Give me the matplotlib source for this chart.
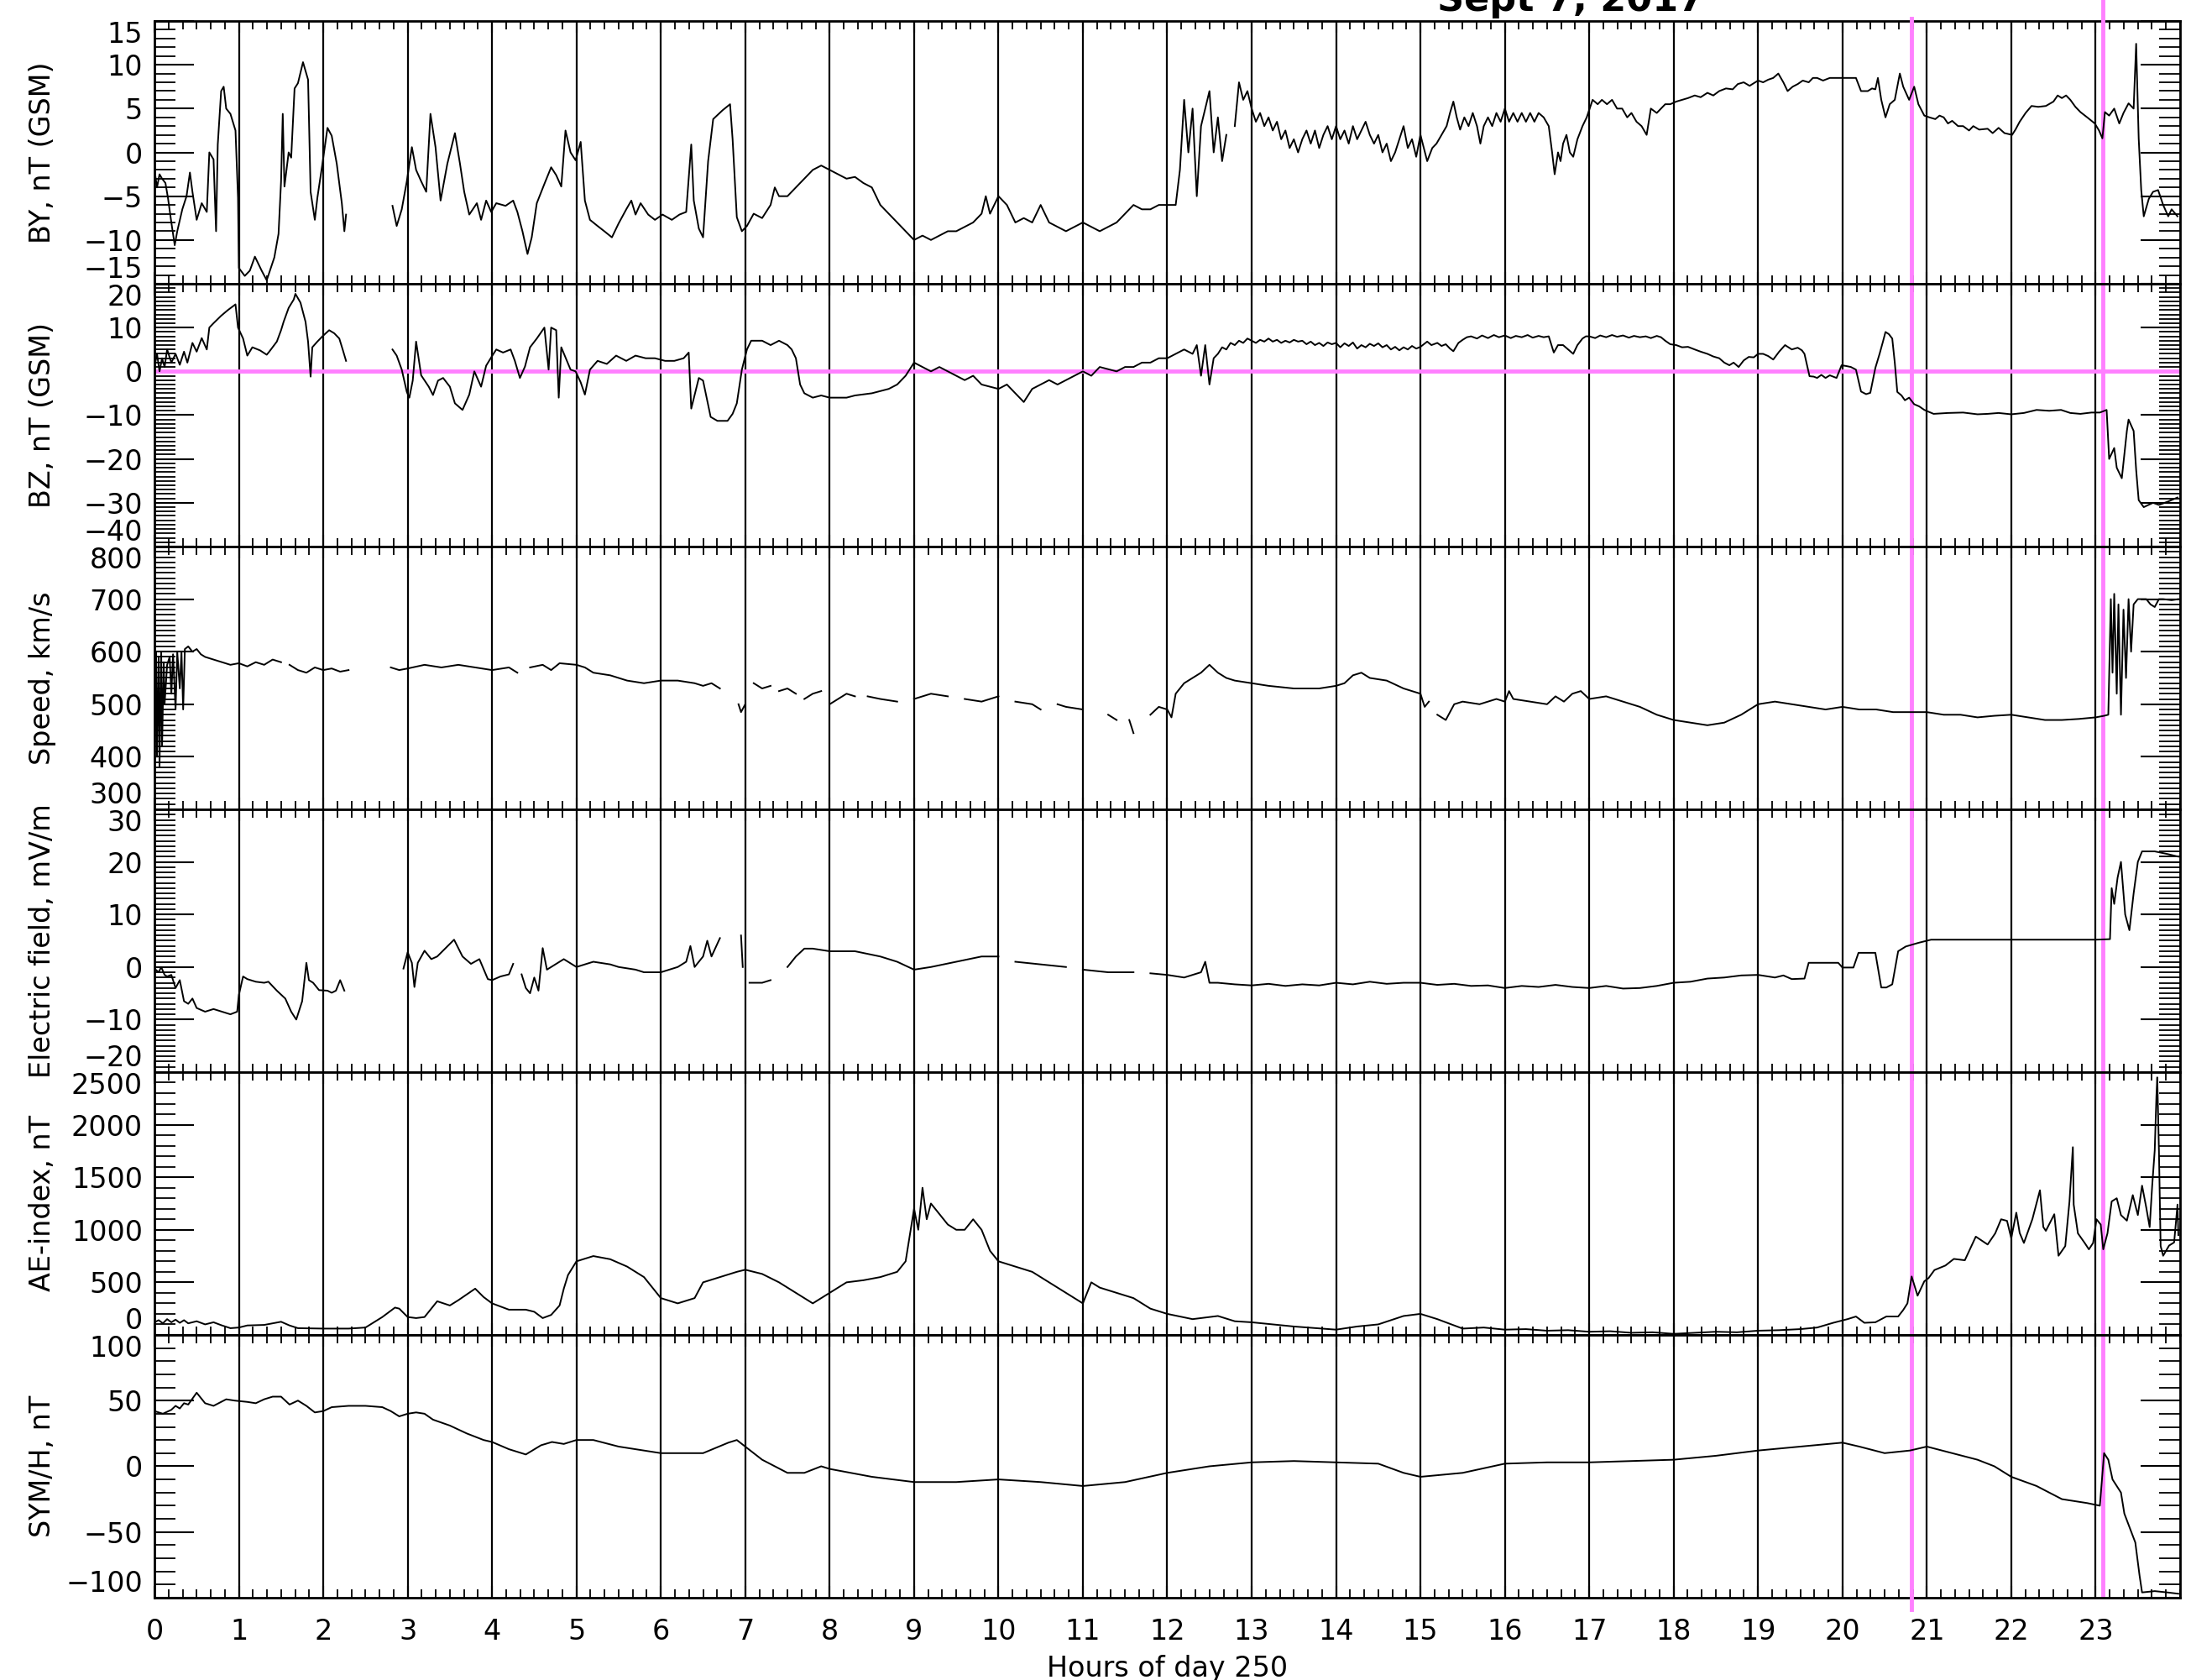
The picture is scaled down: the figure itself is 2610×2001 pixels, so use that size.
import numpy as np
import matplotlib
matplotlib.use('Agg')
import matplotlib.pyplot as plt
from matplotlib.ticker import FixedLocator, MultipleLocator
from matplotlib.lines import Line2D
from matplotlib.transforms import blended_transform_factory

nan = np.nan

# ---- data (hours of day 250, 7 Sept 2017) ----
by_hr = [0.0, 0.03, 0.06, 0.09, 0.13, 0.16, 0.2, 0.24, 0.27, 0.33, 0.38, 0.42, 0.45, 0.5, 0.56, 0.62, 0.65, 0.7,
         0.73, 0.75, 0.79, 0.82, 0.85, 0.9, 0.96, 0.99, 1.0, 1.07, 1.13, 1.19, 1.27, 1.33, 1.42, 1.47, 1.5, 1.52,
         1.54, 1.59, 1.62, 1.66, 1.7, 1.76, 1.82, 1.85, 1.9, 1.93, 1.99, 2.05, 2.1, 2.16, 2.22, 2.25, 2.27, 2.5,
         2.82, 2.87, 2.93, 2.99, 3.05, 3.1, 3.16, 3.22, 3.27, 3.33, 3.39, 3.47, 3.56, 3.62, 3.67, 3.73, 3.82, 3.87,
         3.93, 3.99, 4.05, 4.16, 4.25, 4.3, 4.36, 4.42, 4.47, 4.53, 4.62, 4.7, 4.76, 4.82, 4.87, 4.93, 4.99, 5.05,
         5.1, 5.16, 5.25, 5.33, 5.42, 5.5, 5.59, 5.65, 5.7, 5.76, 5.85, 5.93, 6.02, 6.13, 6.22, 6.3, 6.36, 6.39,
         6.45, 6.5, 6.56, 6.62, 6.73, 6.82, 6.85, 6.9, 6.96, 7.02,
         7.1, 7.2, 7.3, 7.35, 7.4, 7.5, 7.6, 7.7, 7.8, 7.9, 8.0, 8.1, 8.2, 8.3, 8.4, 8.5, 8.6, 8.7, 8.8, 8.9,
         9.0, 9.1, 9.2, 9.3, 9.4, 9.5, 9.6, 9.7, 9.8, 9.85, 9.9, 10.0, 10.1, 10.2, 10.3, 10.4, 10.5, 10.6, 10.7,
         10.8, 10.9, 11.0, 11.1, 11.2, 11.3, 11.4, 11.5, 11.6, 11.7, 11.8, 11.9, 12.0, 12.1, 12.15, 12.2, 12.25,
         12.3, 12.35, 12.4, 12.5, 12.55, 12.6, 12.65, 12.7, 12.75,
         12.8, 12.85, 12.9, 12.95, 13.0, 13.05, 13.1, 13.15, 13.2, 13.25, 13.3, 13.35, 13.4, 13.45, 13.5, 13.55,
         13.6, 13.65, 13.7, 13.75, 13.8, 13.85, 13.9, 13.95, 14.0, 14.05, 14.1, 14.15, 14.2, 14.25, 14.3, 14.35,
         14.4, 14.45, 14.5, 14.55, 14.6, 14.65, 14.7, 14.75, 14.8, 14.85, 14.9, 14.95, 15.0, 15.08, 15.14, 15.19,
         15.25, 15.31, 15.35, 15.39, 15.43, 15.47, 15.52, 15.57, 15.62, 15.67, 15.71, 15.75, 15.8, 15.85, 15.9,
         15.95, 16.0, 16.05, 16.1, 16.15, 16.2, 16.25, 16.3, 16.35, 16.4, 16.46, 16.52, 16.56, 16.59, 16.63,
         16.66, 16.69, 16.73, 16.77, 16.81, 16.86, 16.92, 16.97, 17.04, 17.1, 17.15, 17.21, 17.27, 17.33, 17.39,
         17.45, 17.5, 17.56, 17.62, 17.68, 17.73, 17.8, 17.85, 17.9, 17.96, 18.03, 18.1, 18.17, 18.25, 18.32,
         18.4, 18.47, 18.54, 18.62, 18.7, 18.76, 18.83, 18.9, 19.0, 19.06, 19.12, 19.18, 19.24, 19.3, 19.35,
         19.41, 19.47, 19.53, 19.6, 19.65, 19.7, 19.77, 19.85, 19.93, 20.0, 20.08, 20.16, 20.22, 20.3, 20.35,
         20.39, 20.42, 20.46, 20.51, 20.56, 20.62, 20.68, 20.72, 20.79, 20.85, 20.9, 20.97, 21.03, 21.1, 21.15,
         21.2, 21.25, 21.3, 21.37, 21.43, 21.5, 21.55, 21.62, 21.72, 21.78, 21.85, 21.92, 22.01, 22.05, 22.1,
         22.17, 22.24, 22.32, 22.41, 22.5, 22.55, 22.6, 22.65, 22.7, 22.76, 22.82, 22.9, 22.99, 23.04, 23.08,
         23.11, 23.16, 23.22, 23.28, 23.33, 23.39, 23.45, 23.48, 23.51, 23.54, 23.57, 23.63, 23.68, 23.74, 23.8,
         23.86, 23.9, 23.97]
by_nt = [-2, -4, -2.5, -3, -3.5, -5.2, -8, -10.6, -9, -6.5, -5, -2.3, -4.5, -7.7, -5.8, -6.8, 0, -0.8,
         -9, 0.9, 7, 7.5, 5, 4.4, 2.5, -5.2, -13.2, -14.1, -13.5, -11.9, -13.5, -14.6, -12, -9.3, -3.3, 4.4,
         -3.9, 0, -0.6, 7.3, 7.9, 10.3, 8.3, -4.5, -7.7, -5.2, -1.3, 2.8, 1.9, -1.3, -5.8, -9, -7.1, nan,
         -6.1, -8.4, -6.5, -3.3, 0.6, -2, -3.3, -4.5, 4.4, 0.6, -5.5, -1.3, 2.2, -1.3, -4.5, -7.1, -5.8, -7.7,
         -5.5, -6.8, -5.8, -6.1, -5.5, -6.8, -9, -11.6, -9.7, -5.8, -3.6, -1.7, -2.6, -3.9, 2.5, 0, -0.9, 1.2,
         -5.5, -7.7, -8.4, -9, -9.7, -8.1, -6.5, -5.5, -7.1, -5.8, -7.1, -7.7, -7.1, -7.7, -7.1, -6.8, 0.9, -5.5,
         -8.7, -9.7, -1, 3.8, 4.8, 5.5, 1.5, -7.4, -9, -8.4,
         -7, -7.5, -6, -4, -5, -5, -4, -3, -2, -1.5, -2, -2.5, -3, -2.8, -3.5, -4, -6, -7, -8, -9,
         -10, -9.5, -10, -9.5, -9, -9, -8.5, -8, -7, -5, -7, -5, -6, -8, -7.5, -8, -6, -8, -8.5,
         -9, -8.5, -8, -8.5, -9, -8.5, -8, -7, -6, -6.5, -6.5, -6, -6, -6, -2, 6, 0,
         5, -5, 3, 7, 0, 4, -1, 2, nan,
         3, 8, 6, 7, 5, 3.5, 4.5, 3, 4, 2.5, 3.5, 1.5, 2.5, 0.5, 1.5, 0,
         1.5, 2.5, 1, 2.5, 0.5, 2, 3, 1.5, 3, 1.5, 2.5, 1, 3, 1.5, 2.5, 3.5,
         2, 1, 2, 0, 1, -1, 0, 1.5, 3, 0.5, 1.5, -0.5, 2, -1, 0.5, 1,
         2, 3, 4.5, 5.8, 4, 2.6, 4, 3, 4.5, 3, 1, 3, 4, 3, 4.5,
         3.5, 5, 3.5, 4.5, 3.5, 4.5, 3.5, 4.5, 3.5, 4.5, 4, 3, 0, -2.5, 0,
         -1, 1, 2, 0, -0.5, 1.5, 3, 4, 6, 5.5, 6, 5.5, 6, 5, 5,
         4, 4.5, 3.5, 3, 2, 5, 4.5, 5, 5.5, 5.5, 5.8, 6, 6.2, 6.5, 6.3,
         6.8, 6.5, 7, 7.3, 7.2, 7.8, 8, 7.6, 8.2, 8, 8.3, 8.5, 9, 8, 7,
         7.5, 7.8, 8.2, 8, 8.5, 8.5, 8.2, 8.5, 8.5, 8.5, 8.5, 8.5, 7, 7, 7.3,
         7.2, 8.5, 6, 4, 5.5, 6, 9, 7.5, 6, 7.5, 5.5, 4.2, 4, 3.8, 4.2,
         4, 3.3, 3.6, 3, 3, 2.5, 3, 2.6, 2.7, 2.2, 2.8, 2.2, 2, 2.6, 3.5,
         4.5, 5.3, 5.2, 5.3, 5.8, 6.5, 6.2, 6.5, 6, 5.2, 4.6, 4, 3.3, 2.5, 1.6,
         4.6, 4.2, 5, 3.3, 4.5, 5.6, 5, 12.4, 1.6, -4.3, -7.3, -5.3, -4.5, -4.3, -6,
         -7.3, -6.5, -7.3]

bz_hr = [0.0, 0.03, 0.06, 0.09, 0.12, 0.15, 0.2, 0.25, 0.3, 0.35, 0.39, 0.45, 0.5, 0.56, 0.62, 0.65, 0.7,
         0.79, 0.87, 0.96, 0.99, 1.05, 1.1, 1.16, 1.25, 1.33, 1.36, 1.45, 1.5, 1.53, 1.59, 1.65, 1.67, 1.73,
         1.79, 1.82, 1.85, 1.87, 1.93, 1.99, 2.07, 2.13, 2.19, 2.23, 2.27, 2.5,
         2.82, 2.87, 2.93, 2.99, 3.02, 3.06, 3.1, 3.16, 3.25, 3.3, 3.36, 3.42, 3.5, 3.56, 3.65, 3.73, 3.79,
         3.87, 3.93, 3.99, 4.05, 4.13, 4.22, 4.27, 4.33, 4.39, 4.45, 4.53, 4.62, 4.67, 4.7, 4.76, 4.79, 4.82,
         4.87, 4.93, 4.99, 5.05, 5.1, 5.16, 5.25, 5.36, 5.47, 5.59, 5.7, 5.82, 5.93, 6.05, 6.16, 6.27, 6.33,
         6.36, 6.45, 6.5, 6.59, 6.67, 6.79, 6.85, 6.9, 6.96, 7.02, 7.07,
         7.2, 7.3, 7.4, 7.5, 7.55, 7.6, 7.65, 7.7, 7.8, 7.9, 8.0, 8.2, 8.3, 8.5, 8.7, 8.8, 8.9, 9.0, 9.1, 9.2,
         9.3, 9.4, 9.5, 9.6, 9.7, 9.8, 10.0, 10.1, 10.2, 10.3, 10.4, 10.5, 10.6, 10.7, 10.8, 10.9, 11.0, 11.1,
         11.2, 11.3, 11.4, 11.5, 11.6, 11.7, 11.8, 11.9, 12.0, 12.1, 12.2, 12.3, 12.35, 12.4, 12.45, 12.5,
         12.55, 12.6, 12.65, 12.7, 12.75, 12.8, 12.85, 12.9, 12.95, 13.0, 13.05, 13.1, 13.15, 13.2, 13.25,
         13.3, 13.35, 13.4, 13.45, 13.5, 13.55, 13.6, 13.65, 13.7, 13.75, 13.8, 13.85, 13.9, 13.95, 14.0,
         14.05, 14.1, 14.15, 14.2, 14.25, 14.3, 14.35, 14.4, 14.45, 14.5, 14.55, 14.6, 14.65, 14.7, 14.75,
         14.8, 14.85, 14.9, 14.95, 15.0, 15.08, 15.13, 15.2, 15.25, 15.3, 15.35, 15.39, 15.45, 15.5, 15.55,
         15.6, 15.67, 15.73, 15.8, 15.87, 15.93, 16.0, 16.07, 16.13, 16.2, 16.27, 16.33, 16.4, 16.46, 16.52,
         16.58, 16.63, 16.69, 16.75, 16.81, 16.86, 16.92, 16.96, 17.0, 17.07, 17.13, 17.2, 17.27, 17.33, 17.4,
         17.47, 17.53, 17.6, 17.67, 17.73, 17.8, 17.85, 17.9, 17.96, 18.03, 18.1, 18.17, 18.25, 18.32, 18.4,
         18.47, 18.54, 18.6, 18.66, 18.71, 18.77, 18.83, 18.89, 18.95, 19.0, 19.06, 19.12, 19.18, 19.25, 19.32,
         19.4, 19.47, 19.52, 19.55, 19.61, 19.66, 19.7, 19.75, 19.8, 19.85, 19.93, 19.99, 20.05, 20.1, 20.16,
         20.22, 20.28, 20.33, 20.39, 20.44, 20.48, 20.51, 20.55, 20.59, 20.62, 20.65, 20.7, 20.74, 20.79,
         20.85, 20.91, 20.97, 21.03, 21.08, 21.25, 21.43, 21.6, 21.72, 21.85, 22.0, 22.15, 22.3, 22.45,
         22.59, 22.7, 22.82, 22.95, 23.05, 23.13, 23.16, 23.22, 23.25, 23.31, 23.37, 23.39, 23.45, 23.48,
         23.51, 23.57, 23.68, 23.75, 23.86, 23.97]
bz_nt = [1, 4, 0, 3, 1, 5, 2, 4, 1.5, 4.5, 2, 6.5, 4.5, 7.6, 5, 10, 11,
         12.7, 14, 15.3, 10, 7.5, 3.6, 5.5, 4.8, 3.8, 4.5, 6.8, 9.4, 11.3, 14.5, 16.4, 17.7, 15.7,
         11.3, 6.8, -1.2, 5.5, 6.8, 8, 9.4, 8.7, 7.5, 5, 2.4, nan,
         5, 3.6, 0.4, -4.7, -6, -2.1, 6.8, -0.9, -3.5, -5.4, -2.1, -1.5, -3.5, -7.3, -8.8, -5.3, 0,
         -3.5, 1.3, 3.2, 5, 4.3, 5, 2.4, -1.5, 1.1, 5.5, 7.5, 10, 0.4, 10, 9.4, -6, 5.5,
         3.2, 0.4, 0, -2.5, -5.3, 0.4, 2.4, 1.7, 3.6, 2.4, 3.6, 3, 3, 2.4, 2.4, 3, 4.3,
         -8.5, -1.5, -2.1, -10.4, -11.3, -11.3, -9.7, -7.3, 0.4, 5, 7,
         7, 6, 7, 6, 5, 3, -3, -5, -6, -5.5, -6, -6, -5.5, -5, -4, -3, -1, 2, 1, 0,
         1, 0, -1, -2, -1, -3, -4, -3, -5, -7, -4, -3, -2, -3, -2, -1, 0, -1,
         1, 0.5, 0, 1, 1, 2, 2, 3, 3, 4, 5, 4, 6, -1, 6, -3,
         3, 4, 5.5, 5, 6.5, 6, 7, 6.5, 7.5, 7, 6.5, 7.2, 6.8, 7.5, 6.8,
         7.2, 6.5, 7, 6.6, 7.2, 6.8, 7, 6.2, 6.8, 6, 6.5, 5.8, 6.6, 6.2, 6.5,
         5.5, 6.4, 5.8, 6.6, 5.2, 6, 5.5, 6.3, 5.8, 6.4, 5.5, 6, 5, 5.6, 4.8,
         5.5, 5, 5.8, 5.2, 5.6, 6.8, 6, 6.5, 5.8, 6.2, 5.2, 4.6, 6.5, 7.2, 7.8,
         8, 7.5, 8.2, 7.6, 8.3, 7.8, 8.2, 7.6, 8.1, 7.8, 8.3, 7.7, 8.1, 7.8, 8,
         4.3, 6, 6, 5, 4, 6, 7.5, 8, 8, 7.6, 8.2, 7.8, 8.3, 7.9, 8.2,
         7.7, 8.1, 7.8, 8, 7.6, 8.1, 7.8, 7, 6.2, 6, 5.5, 5.6, 5, 4.5, 4,
         3.4, 3, 2, 1.4, 2, 1, 2.5, 3.3, 3.2, 4, 4, 3.5, 2.7, 4.5, 6,
         5, 5.4, 4.8, 4, -1.1, -1.2, -1.5, -0.8, -1.5, -0.9, -1.5, 1.4, 1.2, 1, 0.4,
         -4.6, -5.2, -4.9, 0.8, 4, 6.8, 9, 8.5, 7.5, 2, -4.7, -5.5, -6.6, -6,
         -7.5, -8, -8.8, -9.3, -9.7, -9.5, -9.4, -9.8, -9.7, -9.5, -9.8, -9.5, -8.8, -9,
         -8.8, -9.5, -9.7, -9.4, -9.4, -8.8, -20, -17.5, -22, -24.4, -13.6, -11, -13.6, -22.5,
         -29.4, -31, -30, -30.5, -29.7, -28.8]

sp_hr = [0.0, 0.02, 0.03, 0.05, 0.06, 0.08, 0.09, 0.11, 0.12, 0.15, 0.18, 0.2, 0.22, 0.25, 0.27, 0.3, 0.32,
         0.34, 0.36, 0.4, 0.45, 0.5, 0.55, 0.6, 0.7, 0.8, 0.9, 1.0, 1.1, 1.2, 1.3, 1.4, 1.5, 1.55, 1.6, 1.7,
         1.8, 1.9, 2.0, 2.1, 2.2, 2.3, 2.4, 2.8, 2.9, 3.0, 3.2, 3.4, 3.6, 3.8, 4.0, 4.2, 4.3, 4.4, 4.45, 4.6,
         4.7, 4.8, 5.0, 5.1, 5.2, 5.4, 5.6, 5.8, 6.0, 6.2, 6.4, 6.5, 6.6, 6.7, 6.75, 6.92, 6.95, 7.0, 7.05,
         7.1, 7.2, 7.3, 7.35, 7.4, 7.5, 7.6, 7.65, 7.7, 7.8, 7.9, 7.95, 8.0, 8.1, 8.2, 8.3, 8.4, 8.45, 8.6,
         8.8, 8.9, 9.0, 9.2, 9.4, 9.5, 9.6, 9.8, 10.0, 10.1, 10.2, 10.4, 10.5, 10.6, 10.7, 10.8, 11.0, 11.1,
         11.3, 11.4, 11.5, 11.55, 11.6, 11.65, 11.8, 11.9, 12.0, 12.05, 12.1, 12.2, 12.3, 12.4, 12.5, 12.6,
         12.7, 12.8, 13.0, 13.2, 13.5, 13.8, 14.0, 14.1, 14.2, 14.3, 14.4, 14.6, 14.8, 15.0, 15.05, 15.1,
         15.15, 15.2, 15.3, 15.4, 15.5, 15.7, 15.9, 16.0, 16.05, 16.1, 16.3, 16.5, 16.6, 16.7, 16.8, 16.9,
         17.0, 17.2, 17.4, 17.6, 17.8, 18.0, 18.2, 18.4, 18.6, 18.8, 19.0, 19.2, 19.4, 19.6, 19.8, 20.0,
         20.2, 20.4, 20.6, 20.8, 21.0, 21.2, 21.4, 21.6, 21.8, 22.0, 22.2, 22.4, 22.6, 22.8, 23.0, 23.1,
         23.15, 23.18, 23.2, 23.22, 23.25, 23.27, 23.3, 23.33, 23.36, 23.39, 23.42, 23.45, 23.5, 23.6,
         23.65, 23.7, 23.75, 23.8, 23.9, 23.98]
sp_kms = [390, 600, 400, 590, 380, 600, 420, 580, 500, 575, 590, 520, 595, 490, 600, 530, 600,
          490, 605, 610, 600, 605, 595, 590, 585, 580, 575, 578, 572, 580, 575, 585, 580, nan, 575, 565,
          560, 570, 565, 568, 562, 565, nan, 570, 565, 568, 575, 570, 575, 570, 565, 570, 560, nan, 570, 575,
          565, 578, 575, 570, 560, 555, 545, 540, 545, 545, 540, 535, 540, 530, nan, 500, 485, 500, nan,
          540, 530, 535, nan, 525, 530, 520, nan, 510, 520, 525, nan, 500, 510, 520, 515, nan, 515, 510,
          505, nan, 510, 520, 515, nan, 510, 505, 515, nan, 505, 500, 490, nan, 500, 495, 490, nan,
          480, 470, nan, 470, 445, nan, 480, 495, 490, 475, 520, 540, 550, 560, 575, 560,
          550, 545, 540, 535, 530, 530, 535, 540, 555, 560, 550, 545, 530, 520, 495, 505,
          nan, 480, 470, 500, 505, 500, 510, 505, 525, 510, 505, 500, 515, 505, 520, 525,
          510, 515, 505, 495, 480, 470, 465, 460, 465, 480, 500, 505, 500, 495, 490, 495,
          490, 490, 485, 485, 485, 480, 480, 475, 478, 480, 475, 470, 470, 472, 475, 478,
          480, 700, 560, 710, 520, 690, 480, 680, 550, 700, 600, 690, 700, 700,
          690, 685, 700, 700, 698, 700]

ef_hr = [0.0, 0.05, 0.08, 0.12, 0.15, 0.2, 0.25, 0.3, 0.35, 0.4, 0.45, 0.5, 0.6, 0.7, 0.8, 0.9, 0.98, 1.0,
         1.05, 1.1, 1.2, 1.3, 1.35, 1.45, 1.55, 1.62, 1.68, 1.75, 1.8, 1.83, 1.88, 1.95, 2.05, 2.1, 2.15, 2.2,
         2.25, 2.3, 2.95, 3.0, 3.05, 3.08, 3.12, 3.2, 3.28, 3.35, 3.45, 3.55, 3.65, 3.75, 3.85, 3.95, 4.0,
         4.1, 4.2, 4.25, 4.3, 4.35, 4.4, 4.45, 4.5, 4.55, 4.6, 4.65, 4.75, 4.85, 5.0, 5.2, 5.4, 5.5, 5.7,
         5.8, 6.0, 6.2, 6.3, 6.35, 6.4, 6.5, 6.55, 6.6, 6.7, 6.72, 6.95, 6.97, 7.0, 7.05, 7.2, 7.3, 7.35,
         7.5, 7.6, 7.7, 7.8, 8.0, 8.3, 8.6, 8.8, 9.0, 9.2, 9.5, 9.8, 10.0, 10.1, 10.2, 10.5, 10.8, 10.9,
         11.0, 11.3, 11.6, 11.7, 11.8, 12.0, 12.2, 12.4, 12.45, 12.5, 12.6, 12.8, 13.0, 13.2, 13.4, 13.6,
         13.8, 14.0, 14.2, 14.4, 14.6, 14.8, 15.0, 15.2, 15.4, 15.6, 15.8, 16.0, 16.2, 16.4, 16.6, 16.8,
         17.0, 17.2, 17.4, 17.6, 17.8, 18.0, 18.2, 18.4, 18.6, 18.8, 19.0, 19.2, 19.3, 19.4, 19.55, 19.6,
         19.95, 20.0, 20.13, 20.19, 20.39, 20.46, 20.52, 20.59, 20.66, 20.75, 20.9, 21.05, 21.5, 22.0, 22.5,
         23.0, 23.17, 23.19, 23.22, 23.26, 23.3, 23.35, 23.4, 23.45, 23.5, 23.55, 23.7, 23.85, 23.98]
ef_mvm = [-0.3, -1, 0, -1.5, -1.8, -1.5, -4, -2.5, -6.5, -7, -6, -7.8, -8.5, -8, -8.5, -9, -8.5, -5.3,
          -1.8, -2.3, -2.8, -3, -2.8, -4.5, -6, -8.5, -10, -6.5, 0.8, -2.5, -3, -4.4, -4.5, -4.9, -4.5, -2.5,
          -4.5, nan, -0.3, 2.8, 0.8, -3.8, 0.8, 3.1, 1.5, 2, 3.6, 5.2, 2, 0.6, 1.5, -2.3, -2.5,
          -1.8, -1.4, 0.6, nan, -1.4, -4, -5, -2, -4.5, 3.6, -0.5, 0.5, 1.5, 0, 1, 0.5, 0, -0.5,
          -1, -1, 0, 1, 4, 0, 2, 5, 2, 5.5, nan, 6, 0, nan, -3, -3, -2.5, nan,
          0, 2, 3.5, 3.5, 3, 3, 2, 1, -0.5, 0, 1, 2, 2, nan, 1, 0.5, 0, nan,
          -0.5, -1, -1, nan, -1.2, -1.5, -2, -1, 1, -3, -3, -3.3, -3.5, -3.2, -3.6, -3.3,
          -3.5, -3, -3.3, -2.8, -3.2, -3, -3, -3.4, -3.2, -3.6, -3.5, -4, -3.6, -3.8, -3.4, -3.8,
          -4, -3.6, -4.1, -4, -3.6, -3, -2.8, -2.2, -2, -1.6, -1.5, -2, -1.6, -2.3, -2.2, 0.8,
          0.8, -0.1, -0.1, 2.7, 2.7, -3.9, -3.9, -3.3, 3, 3.9, 4.6, 5.2, 5.2, 5.2, 5.2,
          5.2, 5.3, 15, 12, 17, 20, 10, 7, 14, 20, 22, 22, 21.5, 21]

ae_hr = [0.0, 0.05, 0.1, 0.15, 0.2, 0.25, 0.3, 0.35, 0.4, 0.5, 0.6, 0.7, 0.8, 0.9, 1.0, 1.1, 1.3, 1.5, 1.6,
         1.7, 2.0, 2.3, 2.5, 2.7, 2.85, 2.9, 3.0, 3.1, 3.2, 3.35, 3.5, 3.6, 3.8, 3.9, 4.0, 4.2, 4.4, 4.5, 4.6,
         4.7, 4.8, 4.85, 4.9, 5.0, 5.2, 5.4, 5.6, 5.8, 6.0, 6.2, 6.4, 6.5, 6.7, 6.9, 7.0, 7.2, 7.4, 7.6, 7.8,
         8.0, 8.2, 8.4, 8.6, 8.8, 8.9, 9.0, 9.05, 9.1, 9.15, 9.2, 9.3, 9.4, 9.5, 9.6, 9.7, 9.8, 9.9, 10.0,
         10.2, 10.4, 10.6, 10.8, 11.0, 11.1, 11.2, 11.4, 11.6, 11.8, 12.0, 12.3, 12.6, 12.8, 13.0, 13.25,
         13.5, 13.75, 14.0, 14.25, 14.5, 14.8, 15.0, 15.2, 15.5, 15.75, 16.0, 16.25, 16.5, 16.75, 17.0, 17.25,
         17.5, 17.75, 18.0, 18.25, 18.5, 18.75, 19.0, 19.25, 19.5, 19.7, 19.89, 20.06,
         20.16, 20.26, 20.39, 20.52, 20.66, 20.72, 20.77, 20.82, 20.89, 20.97, 21.02, 21.09, 21.22, 21.32,
         21.45, 21.58, 21.72, 21.81, 21.88, 21.95, 22.0, 22.06, 22.1, 22.15, 22.25, 22.34, 22.38, 22.41,
         22.51, 22.56, 22.64, 22.69, 22.73, 22.74, 22.79, 22.87, 22.92, 22.97, 23.01, 23.06, 23.09, 23.14,
         23.19, 23.25, 23.3, 23.37, 23.44, 23.5, 23.55, 23.6, 23.64, 23.67, 23.7, 23.72, 23.73, 23.75,
         23.77, 23.8, 23.87, 23.93, 23.97, 23.98]
ae_nt = [120, 140, 110, 150, 120, 145, 115, 140, 110, 130, 100, 120, 90, 64, 70, 90, 95, 125, 90,
         64, 60, 60, 70, 170, 260, 250, 170, 160, 170, 320, 280, 330, 440, 360, 300, 240, 240, 220, 160,
         190, 280, 440, 570, 700, 750, 720, 650, 550, 350, 300, 350, 500, 550, 600, 620, 580, 500, 400, 300,
         400, 500, 520, 550, 600, 700, 1200, 1000, 1400, 1100, 1250, 1150, 1050, 1000, 1000, 1100, 1000, 800,
         700, 650, 600, 500, 400, 300, 500, 450, 400, 350, 250, 200, 150, 180, 130, 120, 100,
         80, 65, 50, 80, 100, 180, 200, 150, 60, 70, 50, 55, 40, 45, 30, 35,
         20, 25, 10, 20, 30, 25, 40, 45, 55, 70, 115, 150,
         175, 115, 120, 175, 175, 237, 300, 556, 373, 510, 540, 617, 660, 723,
         710, 935, 860, 966, 1100, 1085, 920, 1163, 970, 875, 1100, 1376, 1026, 990,
         1148, 753, 845, 1270, 1786, 1240, 966, 875, 814, 875, 1100, 1050, 814, 966,
         1270, 1300, 1140, 1087, 1330, 1140, 1420, 1210, 1026, 1420, 1756, 2270, 2450, 1750,
         845, 753, 850, 880, 1240, 950]

sym_hr = [0.0, 0.1, 0.2, 0.25, 0.3, 0.35, 0.4, 0.5, 0.6, 0.7, 0.85, 0.95, 1.1, 1.2, 1.3, 1.4, 1.5, 1.6, 1.7,
          1.8, 1.9, 2.0, 2.1, 2.3, 2.5, 2.7, 2.8, 2.9, 3.0, 3.1, 3.2, 3.3, 3.5, 3.7, 3.9, 4.0, 4.2, 4.4, 4.58,
          4.71, 4.85, 5.0, 5.2, 5.5, 6.0, 6.5, 6.8, 6.9, 7.0, 7.2, 7.5, 7.7, 7.9, 8.0, 8.5, 9.0, 9.5, 10.0,
          10.5, 11.0, 11.5, 12.0, 12.5, 13.0, 13.5, 14.0, 14.5, 14.8, 15.0, 15.5, 16.0, 16.5, 17.0, 17.5,
          18.0, 18.5, 19.0, 19.5, 20.0, 20.2, 20.5, 20.8, 21.0, 21.3, 21.6, 21.8, 22.0, 22.3, 22.6, 22.9,
          23.05, 23.1, 23.15, 23.2, 23.3, 23.34, 23.47, 23.52, 23.55, 23.7, 23.85, 23.98]
sym_nt = [42, 40, 43, 46, 44, 48, 47, 56, 48, 46, 51, 50, 49, 48, 51, 53, 53, 47, 50,
          46, 41, 42, 45, 46, 46, 45, 42, 38, 40, 41, 40, 35.5, 31, 25, 20, 18.5, 13, 9, 16,
          18.5, 17, 20, 20, 15, 10, 10, 18, 20, 15, 5, -5, -5, 0, -2, -8, -12, -12, -10,
          -12, -15, -12, -5, 0, 3, 4, 3, 2, -5, -8, -5, 2, 3, 3, 4,
          5, 8, 12, 15, 18, 15, 10, 12, 15, 10, 5, 0, -8, -15, -25, -28,
          -30, 10, 5, -10, -20, -36, -58, -83, -96, -95, -96, -97]

hour_lines = list(range(1, 24))
event_hr = [20.82, 23.09]
panel_labels = ['BY, nT (GSM)', 'BZ, nT (GSM)', 'Speed, km/s', 'Electric field, mV/m',
                'AE-index, nT', 'SYM/H, nT']

plt.rcParams['font.family'] = ['DejaVu Sans']
pink = '#ff80ff'

fig, axes = plt.subplots(6, 1, sharex=True, figsize=(26.1, 20.01), dpi=100)
fig.subplots_adjust(left=0.0705, right=0.995, top=0.9875, bottom=0.049, hspace=0)

series = [(by_hr, by_nt), (bz_hr, bz_nt), (sp_hr, sp_kms), (ef_hr, ef_mvm), (ae_hr, ae_nt), (sym_hr, sym_nt)]
ylims = [(-15, 15), (-40, 20), (300, 800), (-20, 30), (0, 2500), (-100, 100)]
major_step = [5, 10, 100, 10, 500, 50]
minor_step = [1, 1, 10, 1, 100, 10]

for i, ax in enumerate(axes):
    t, v = series[i]
    ax.plot(t, v, color='black', lw=1.4, zorder=3)
    for h in hour_lines:
        ax.axvline(h, color='black', lw=1.6, zorder=1)
    for h in event_hr:
        ax.axvline(h, color=pink, lw=3.5, zorder=2)
    if i == 1:
        ax.axhline(0, color=pink, lw=3.5, zorder=2)

    lo, hi = ylims[i]
    ax.set_ylim(lo, hi)
    ax.set_xlim(0, 24)
    ax.yaxis.set_major_locator(FixedLocator(np.arange(lo, hi + 1e-9, major_step[i])))
    ax.yaxis.set_minor_locator(MultipleLocator(minor_step[i]))
    ax.xaxis.set_major_locator(FixedLocator(range(0, 24)))
    ax.xaxis.set_minor_locator(MultipleLocator(1 / 6))

    ax.tick_params(axis='y', which='major', direction='in', length=34, width=1.5,
                   left=True, right=True, labelsize=24, pad=10)
    ax.tick_params(axis='y', which='minor', direction='in', length=18, width=1.3,
                   left=True, right=True)
    ax.tick_params(axis='x', which='major', direction='in', length=10, width=1.5,
                   top=True, bottom=True, labelsize=24, pad=17)
    ax.tick_params(axis='x', which='minor', direction='in', length=7, width=1.3,
                   top=True, bottom=True)
    for s in ax.spines.values():
        s.set_linewidth(2)

    # end labels sit inside their panel, as in the original
    ticks = ax.yaxis.get_major_ticks()
    ticks[0].label1.set_va('bottom')
    ticks[-1].label1.set_va('top')

    ax.set_ylabel(panel_labels[i], fontsize=24, va='center')
    ax.yaxis.set_label_coords(-0.0555, 0.5)

axes[-1].set_xlabel('Hours of day 250', fontsize=24, labelpad=8)

# event lines poke slightly outside the panel stack
trans = blended_transform_factory(axes[-1].transData, fig.transFigure)
fig.add_artist(Line2D([event_hr[0], event_hr[0]], [1 - 1917 / 2001, 0.05], transform=trans, color=pink, lw=3.5))
fig.add_artist(Line2D([event_hr[0], event_hr[0]], [0.9875, 1 - 22 / 2001], transform=trans, color=pink, lw=3.5))
fig.add_artist(Line2D([event_hr[1], event_hr[1]], [0.9875, 1.0], transform=trans, color=pink, lw=3.5))

fig.text(0.717, 1 - 13 / 2001, 'Sept 7, 2017', ha='center', va='baseline', fontsize=32, fontweight='bold')

fig.savefig('out.png', dpi=100)
